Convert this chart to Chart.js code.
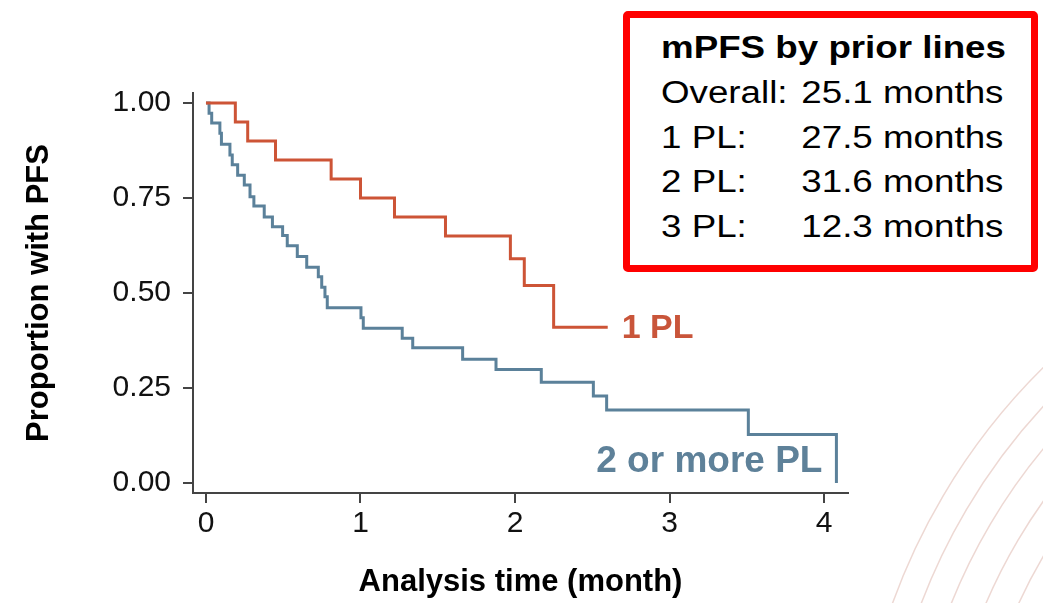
<!DOCTYPE html>
<html>
<head>
<meta charset="utf-8">
<script src="https://cdn.jsdelivr.net/npm/chart.js@4/dist/chart.umd.min.js"></script>
<style>
  html, body { margin: 0; padding: 0; background: #fff; }
  body { width: 1043px; height: 603px; position: relative; overflow: hidden; font-family: 'Liberation Sans', Arial, sans-serif; }
  #kmChart { position: absolute; left: 0; top: 0; }
  .mpfsBox {
    position: absolute; left: 623px; top: 11px; width: 415px; height: 261px;
    box-sizing: border-box; border: 7px solid #ff0000; border-radius: 5px; background: #fff;
  }
  .mpfsText {
    position: absolute; left: 661px; width: 289px;
    transform: scaleX(1.185); transform-origin: left top;
    font-size: 31px; line-height: 31px; color: #000; white-space: nowrap;
  }
  .mpfsText.title { font-weight: bold; }
  .mpfsRow { display: flex; justify-content: space-between; }
</style>
</head>
<body>
<canvas id="kmChart" width="1043" height="603"></canvas>

<div class="mpfsBox"></div>
<div class="mpfsText title" style="top:32px">mPFS by prior lines</div>
<div class="mpfsText mpfsRow" style="top:77px"><span>Overall:</span><span>25.1 months</span></div>
<div class="mpfsText mpfsRow" style="top:122px"><span>1 PL:</span><span>27.5 months</span></div>
<div class="mpfsText mpfsRow" style="top:166px"><span>2 PL:</span><span>31.6 months</span></div>
<div class="mpfsText mpfsRow" style="top:211px"><span>3 PL:</span><span>12.3 months</span></div>

<script>
// Kaplan-Meier steps (time in months, proportion with PFS)
const onePlTimes = [0, 0.19, 0.27, 0.45, 0.81, 1.0, 1.22, 1.55, 1.97, 2.06, 2.25, 2.60];
const onePlSurv  = [1, 0.95, 0.90, 0.85, 0.80, 0.75, 0.70, 0.65, 0.59, 0.52, 0.41, 0.41];

const twoPlTimes = [0, 0.02, 0.037, 0.09, 0.10, 0.155, 0.17, 0.205, 0.248, 0.285, 0.31, 0.377,
  0.43, 0.496, 0.526, 0.591, 0.652, 0.727, 0.749, 0.77, 0.785, 1.003, 1.018, 1.27, 1.338,
  1.661, 1.877, 2.17, 2.507, 2.593, 3.51, 4.08];
const twoPlSurv  = [1, 0.973, 0.947, 0.92, 0.891, 0.863, 0.837, 0.81, 0.784, 0.753, 0.729, 0.70,
  0.674, 0.651, 0.624, 0.596, 0.568, 0.543, 0.515, 0.49, 0.461, 0.435, 0.407, 0.381, 0.356,
  0.326, 0.299, 0.265, 0.229, 0.192, 0.128, 0];

const xTicks = [0, 1, 2, 3, 4];
const yTicks = [0, 0.25, 0.5, 0.75, 1];
const seriesLabels = ['1 PL', '2 or more PL'];
const seriesColors = ['#cd5436', '#5b819a'];

const FONT = "'Liberation Sans', Arial, sans-serif";

function toPoints(times, surv) {
  return times.map((t, i) => ({ x: t, y: surv[i] }));
}

// faint arcs in the lower right corner + the curve labels
const extrasPlugin = {
  id: 'extras',
  beforeDraw(chart) {
    const ctx = chart.ctx;
    ctx.save();
    ctx.strokeStyle = 'rgba(225,190,182,0.6)';
    ctx.lineWidth = 1.5;
    [633, 606, 578, 546, 516].forEach((r) => {
      ctx.beginPath();
      ctx.arc(1488, 818, r, Math.PI * 0.98, Math.PI * 1.36);
      ctx.stroke();
    });
    ctx.restore();
  },
  afterDatasetsDraw(chart) {
    const ctx = chart.ctx;
    const xs = chart.scales.x;
    const ys = chart.scales.y;
    ctx.save();
    ctx.font = 'bold 34px ' + FONT;
    ctx.fillStyle = '#c9553a';
    ctx.textAlign = 'left';
    ctx.textBaseline = 'alphabetic';
    const lastRed = onePlTimes.length - 1;
    ctx.fillText(seriesLabels[0], xs.getPixelForValue(onePlTimes[lastRed]) + 14,
      ys.getPixelForValue(onePlSurv[lastRed]) + 11);

    ctx.font = 'bold 37px ' + FONT;
    ctx.fillStyle = '#5e8199';
    ctx.textAlign = 'right';
    const lastBlue = twoPlTimes.length - 1;
    ctx.fillText(seriesLabels[1], xs.getPixelForValue(twoPlTimes[lastBlue]) - 14,
      ys.getPixelForValue(0) - 11);
    ctx.restore();
  }
};

const axisGrid = {
  display: true,
  drawOnChartArea: false,
  drawTicks: true,
  tickLength: 10,
  color: '#444',
  lineWidth: 2
};

new Chart(document.getElementById('kmChart').getContext('2d'), {
  type: 'line',
  data: {
    datasets: [
      {
        label: seriesLabels[0],
        data: toPoints(onePlTimes, onePlSurv),
        borderColor: seriesColors[0],
        borderWidth: 3,
        stepped: 'before',
        pointRadius: 0,
        fill: false
      },
      {
        label: seriesLabels[1],
        data: toPoints(twoPlTimes, twoPlSurv),
        borderColor: seriesColors[1],
        borderWidth: 3,
        stepped: 'before',
        pointRadius: 0,
        fill: false
      }
    ]
  },
  options: {
    responsive: false,
    animation: false,
    devicePixelRatio: 1,
    layout: { padding: { top: 93, right: 195, left: 0, bottom: 0 } },
    plugins: {
      legend: { display: false },
      tooltip: { enabled: false }
    },
    scales: {
      x: {
        type: 'linear',
        min: -0.084,
        max: 4.155,
        afterBuildTicks: (scale) => { scale.ticks = xTicks.map((v) => ({ value: v })); },
        afterFit: (scale) => { scale.height = 110; },
        grid: axisGrid,
        border: { display: true, color: '#444', width: 2 },
        ticks: {
          autoSkip: false,
          maxRotation: 0,
          padding: 3,
          color: '#111',
          font: { family: FONT, size: 30 },
          callback: (v) => String(v)
        },
        title: {
          display: true,
          text: 'Analysis time (month)',
          color: '#000',
          font: { family: FONT, size: 31, weight: 'bold' },
          padding: { top: 0, bottom: 2 }
        }
      },
      y: {
        type: 'linear',
        min: -0.026,
        max: 1.026,
        afterBuildTicks: (scale) => { scale.ticks = yTicks.map((v) => ({ value: v })); },
        afterFit: (scale) => { scale.width = 193; },
        grid: axisGrid,
        border: { display: true, color: '#444', width: 2 },
        ticks: {
          autoSkip: false,
          padding: 12,
          color: '#111',
          font: { family: FONT, size: 30 },
          callback: (v) => v.toFixed(2)
        },
        title: {
          display: true,
          text: 'Proportion with PFS',
          color: '#000',
          font: { family: FONT, size: 31, weight: 'bold' },
          padding: { top: 21, bottom: 0 }
        }
      }
    }
  },
  plugins: [extrasPlugin]
});
</script>
</body>
</html>
